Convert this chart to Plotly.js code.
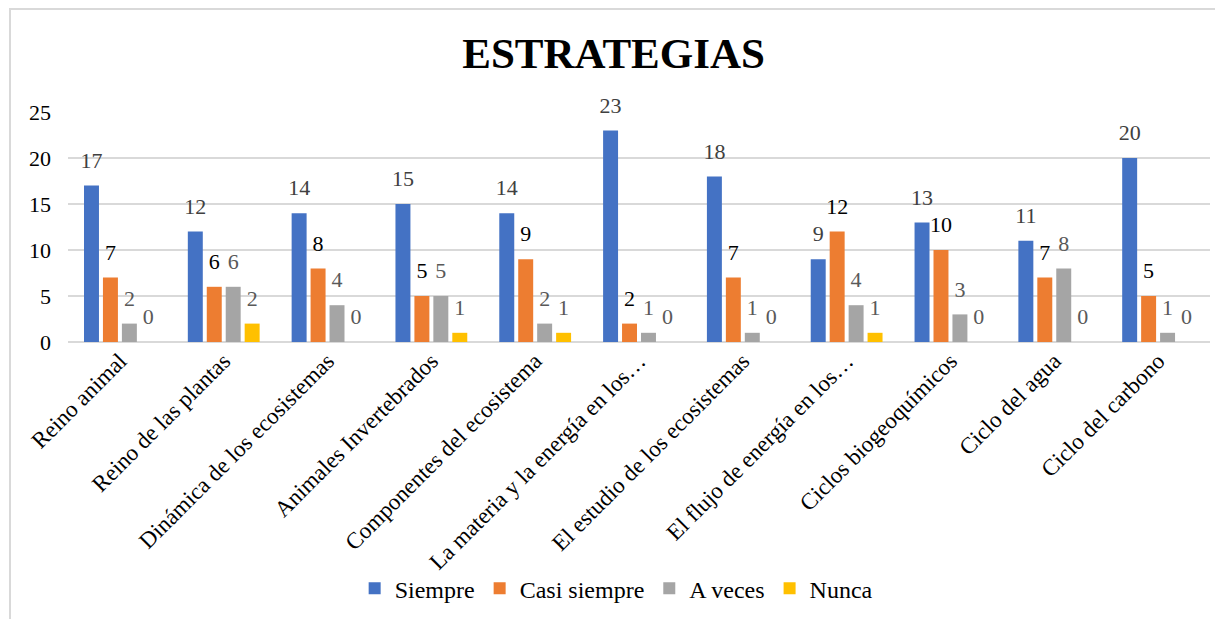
<!DOCTYPE html>
<html>
<head>
<meta charset="utf-8">
<script src="https://cdn.plot.ly/plotly-3.0.1.min.js"></script>
<style>
  html, body { margin: 0; padding: 0; background: #fff; }
  #wrap { position: relative; width: 1215px; height: 619px; }
  #chart { position: absolute; left: 0; top: 0; width: 1215px; height: 619px; }
  #frame { position: absolute; left: 9px; top: 8px; right: 0; bottom: 0;
           border-left: 2px solid #D9D9D9; border-top: 2px solid #D9D9D9;
           pointer-events: none; }
</style>
</head>
<body>
<div id="wrap">
  <div id="chart"></div>
  <div id="frame"></div>
</div>
<script>
// Topics covered
const categories = [
  "Reino animal",
  "Reino de las plantas",
  "Dinámica de los ecosistemas",
  "Animales Invertebrados",
  "Componentes del ecosistema",
  "La materia y la energía en los…",
  "El estudio de los ecosistemas",
  "El flujo de energía en los…",
  "Ciclos biogeoquímicos",
  "Ciclo del agua",
  "Ciclo del carbono"
];

// Frequency of each answer
const siempre      = [17, 12, 14, 15, 14, 23, 18,  9, 13, 11, 20];
const casiSiempre  = [ 7,  6,  8,  5,  9,  2,  7, 12, 10,  7,  5];
const aVeces       = [ 2,  6,  4,  5,  2,  1,  1,  4,  3,  8,  1];
const nunca        = [ 0,  2,  0,  1,  1,  0,  0,  1,  0,  0,  0];

const seriesNames  = ["Siempre", "Casi siempre", "A veces", "Nunca"];
const seriesValues = [siempre, casiSiempre, aVeces, nunca];
const seriesColors = ["#4472C4", "#ED7D31", "#A5A5A5", "#FFC000"];
const labelColors  = ["#404040", "#000000", "#595959", "#595959"];

const FONT = '"Liberation Serif", "Times New Roman", serif';
const GAP = 0.27;

// Bars
const barTraces = seriesNames.map((name, i) => ({
  type: "bar",
  name: name,
  x: categories,
  y: seriesValues[i],
  offsetgroup: "g" + i,
  marker: { color: seriesColors[i] },
  hoverinfo: "x+y+name"
}));

// Value labels, grouped the same way as the bars and lifted above each bar top
const labelTraces = seriesNames.map((name, i) => ({
  type: "scatter",
  mode: "markers+text",
  name: name,
  showlegend: false,
  x: categories,
  y: seriesValues[i],
  offsetgroup: "g" + i,
  marker: { size: 18, opacity: 0, color: seriesColors[i] },
  text: seriesValues[i].map(String),
  textposition: "top center",
  cliponaxis: false,
  textfont: { family: FONT, size: 22, color: labelColors[i] },
  hoverinfo: "skip"
}));

const layout = {
  width: 1215,
  height: 619,
  paper_bgcolor: "#ffffff",
  plot_bgcolor: "#ffffff",
  margin: { l: 68, r: 5, t: 112, b: 277 },
  font: { family: FONT, size: 22, color: "#000" },
  title: {
    text: "<b>ESTRATEGIAS</b>",
    font: { family: FONT, size: 43, color: "#000" },
    x: 0.505, xanchor: "center",
    y: 0.915, yanchor: "middle"
  },
  barmode: "group",
  bargap: GAP,
  bargroupgap: 0.21,
  scattermode: "group",
  scattergap: GAP,
  xaxis: {
    type: "category",
    tickangle: -45,
    tickfont: { family: FONT, size: 23, color: "#000" },
    showgrid: false,
    showline: false,
    ticks: ""
  },
  yaxis: {
    range: [0, 25],
    dtick: 5,
    tickfont: { family: FONT, size: 22, color: "#000" },
    gridcolor: "#D9D9D9",
    gridwidth: 2,
    zeroline: true,
    zerolinecolor: "#D9D9D9",
    zerolinewidth: 2,
    showline: false,
    ticks: "",
    ticklabelstandoff: 16
  },
  showlegend: true,
  legend: {
    orientation: "h",
    x: 0.48, xanchor: "center",
    y: -0.975, yanchor: "top",
    bgcolor: "rgba(0,0,0,0)",
    font: { family: FONT, size: 24, color: "#000" },
    itemwidth: 30,
    traceorder: "normal"
  }
};

Plotly.newPlot("chart", barTraces.concat(labelTraces), layout,
  { displayModeBar: false, staticPlot: true });
</script>
</body>
</html>
